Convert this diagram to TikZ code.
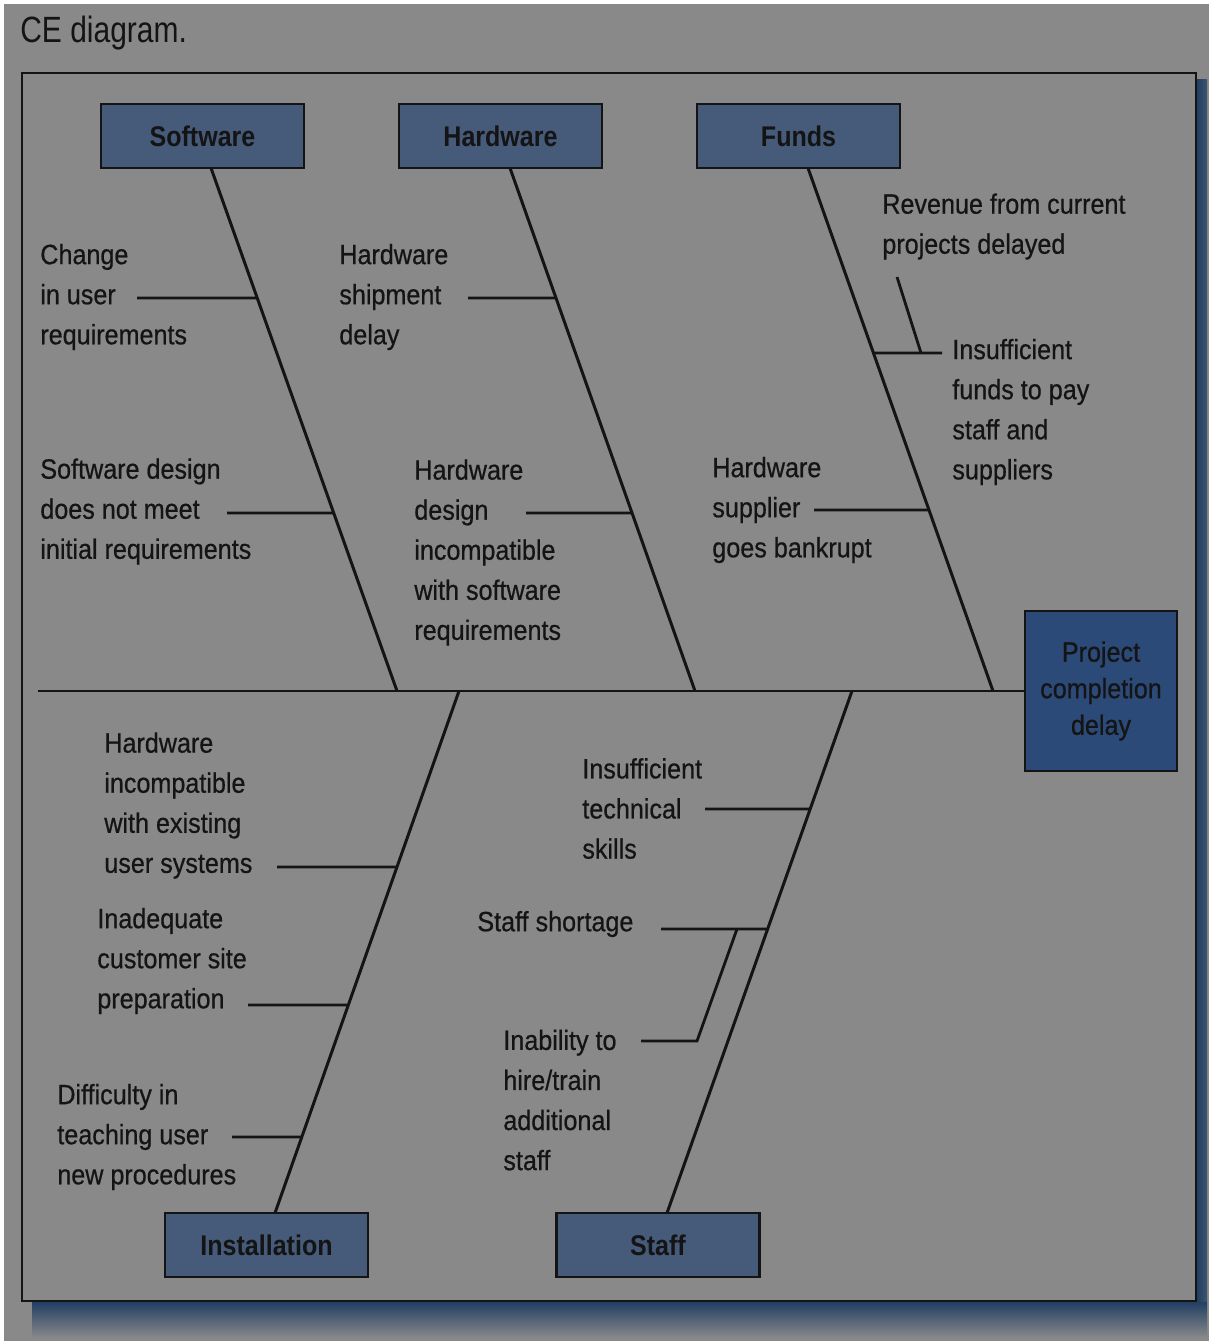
\documentclass[tikz,border=0pt]{standalone}
\usepackage{fontspec}
\usepackage{tikz}
\usetikzlibrary{calc,positioning}
\newfontfamily\labfont{Liberation Sans}[FakeStretch=0.9,FakeBold=0.6]
\newfontfamily\boxfont{Liberation Sans}[FakeStretch=0.88]
\newfontfamily\headfont{Liberation Sans}[FakeStretch=0.82]
\definecolor{Ink}{HTML}{141414}
\definecolor{Paper}{HTML}{898989}
\definecolor{CatFill}{HTML}{465A79}
\definecolor{HeadFill}{HTML}{2B4A78}
\definecolor{Shadow}{HTML}{1F3D63}
\tikzset{
  bone/.style={line width=1.7pt,draw=Ink},
  twig/.style={line width=1.6pt,draw=Ink},
  catbox/.style={rectangle,draw=Ink,fill=CatFill,line width=1.4pt,minimum width=4.06cm,minimum height=1.28cm,
    inner sep=0pt,font=\boxfont\bfseries\fontsize{16.2}{22.8}\selectfont,text=Ink},
  headbox/.style={catbox,fill=HeadFill,minimum width=3.04cm,minimum height=3.2cm,align=center,
    font=\labfont\fontsize{15.9}{20.8}\selectfont},
  lbl/.style={anchor=west,align=left,inner sep=0pt,text=Ink,font=\labfont\fontsize{15.9}{22.8}\selectfont}
}
\begin{document}
\begin{tikzpicture}[x=0.02cm,y=-0.02cm]
  \useasboundingbox (0,0) rectangle (1209,1341);
  \fill[white] (0,0) rectangle (1209,1341);
  \fill[Paper] (4,4) rectangle (1209,1341);
  % frame and its shadow
  \shade[top color=Shadow,bottom color=Paper] (32,1301) rectangle (1207,1338);
  \shade[left color=Shadow,right color=Shadow!70!Paper] (1196,80) rectangle (1207,1301);
  \draw[line width=1.3pt,draw=Ink] (22,73) rectangle (1196,1301);
  \node[anchor=base west,inner sep=0pt,text=Ink,font=\headfont\fontsize{20.8}{24}\selectfont] (title) at (20,43) {CE diagram.};
  % boxes
  \node[catbox] (sw) at (202.5,136) {Software};
  \node[catbox] (hw) at (500.5,136) {Hardware};
  \node[catbox] (fu) at (798.5,136) {Funds};
  \node[catbox] (in) at (266.5,1245) {Installation};
  \node[catbox] (st) at (658,1245) {Staff};
  \node[headbox] (pcd) at (1101,691) {Project\\completion\\delay};
  % spine and bones
  \coordinate (tail) at (38,691);
  \coordinate (swtop) at (211,168); \coordinate (swfoot) at (397,691);
  \coordinate (hwtop) at (510,168); \coordinate (hwfoot) at (695,691);
  \coordinate (futop) at (808,168); \coordinate (fufoot) at (993,691);
  \coordinate (inhead) at (459,691); \coordinate (inbot) at (275,1213);
  \coordinate (sthead) at (852,691); \coordinate (stbot) at (667,1213);
  \draw[bone] (tail) -- (pcd.west);
  \draw[bone] (swtop) -- (swfoot);
  \draw[bone] (hwtop) -- (hwfoot);
  \draw[bone] (futop) -- (fufoot);
  \draw[bone] (inhead) -- (inbot);
  \draw[bone] (sthead) -- (stbot);
  % causes
  \node[lbl] (c1) at (40,297) {Change\\in user\\requirements};
  \node[lbl] (c2) at (40,511.5) {Software design\\does not meet\\initial requirements};
  \node[lbl] (c3) at (339,297) {Hardware\\shipment\\delay};
  \node[lbl] (c4) at (414,552.5) {Hardware\\design\\incompatible\\with software\\requirements};
  \node[lbl] (c5) at (882,226.5) {Revenue from current\\projects delayed};
  \node[lbl] (c6) at (952,412) {Insufficient\\funds to pay\\staff and\\suppliers};
  \node[lbl] (c7) at (712,510) {Hardware\\supplier\\goes bankrupt};
  \node[lbl] (c8) at (104,805.5) {Hardware\\incompatible\\with existing\\user systems};
  \node[lbl] (c9) at (97,961) {Inadequate\\customer site\\preparation};
  \node[lbl] (c10) at (57,1137) {Difficulty in\\teaching user\\new procedures};
  \node[lbl] (c11) at (582,808.5) {Insufficient\\technical\\skills};
  \node[lbl] (c12) at (477,924) {Staff shortage};
  \node[lbl] (c13) at (503,1100) {Inability to\\hire/train\\additional\\staff};
  % twigs
  \coordinate (t1) at (137,298); \coordinate (t2) at (227,513);
  \coordinate (t3) at (468,298); \coordinate (t4) at (526,513);
  \coordinate (t6) at (942,353); \coordinate (t5) at (897,277); \coordinate (k5) at (921,353);
  \coordinate (t7) at (814,510);
  \coordinate (t8) at (277,867); \coordinate (t9) at (248,1005); \coordinate (t10) at (232,1137);
  \coordinate (t11) at (705,809); \coordinate (t12) at (661,929);
  \coordinate (t13) at (641,1041); \coordinate (e13) at (697,1041); \coordinate (k13) at (737,929);
  \draw[twig] (t1) -- ($(swtop)!0.2486!(swfoot)$);
  \draw[twig] (t2) -- ($(swtop)!0.6597!(swfoot)$);
  \draw[twig] (t3) -- ($(hwtop)!0.2486!(hwfoot)$);
  \draw[twig] (t4) -- ($(hwtop)!0.6597!(hwfoot)$);
  \draw[twig] ($(futop)!0.3537!(fufoot)$) -- (t6);
  \draw[twig] (t5) -- (k5);
  \draw[twig] (t7) -- ($(futop)!0.6539!(fufoot)$);
  \draw[twig] (t8) -- ($(inhead)!0.3372!(inbot)$);
  \draw[twig] (t9) -- ($(inhead)!0.6015!(inbot)$);
  \draw[twig] (t10) -- ($(inhead)!0.8544!(inbot)$);
  \draw[twig] (t11) -- ($(sthead)!0.2261!(stbot)$);
  \draw[twig] (t12) -- ($(sthead)!0.4559!(stbot)$);
  \draw[twig] (t13) -- (e13) -- (k13);
\end{tikzpicture}
\end{document}
